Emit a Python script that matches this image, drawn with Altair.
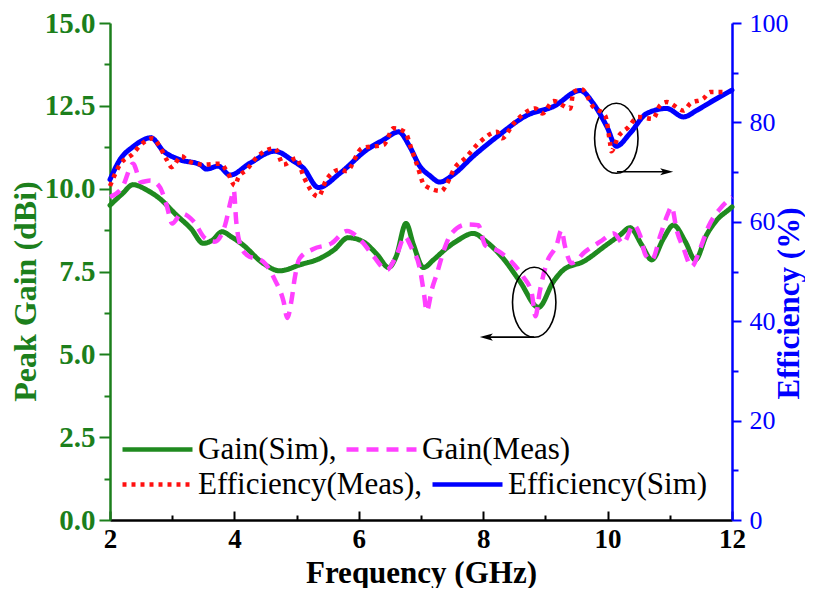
import altair as alt
import pandas as pd

# ---------------- data ----------------
gain_sim_f = [2.0, 2.2, 2.37, 2.6, 2.8, 3.07, 3.3, 3.5, 3.65, 3.8, 3.95, 4.14, 4.46, 4.73,
              5.05, 5.38, 5.6, 5.83, 6.07, 6.3, 6.48, 6.6, 6.76, 6.88, 7.04, 7.2, 7.41,
              7.6, 7.84, 8.05, 8.32, 8.59, 8.89, 9.13, 9.29, 9.61, 9.98, 10.2, 10.36,
              10.55, 10.71, 10.9, 11.06, 11.25, 11.41, 11.59, 11.75, 11.97, 12.0]
gain_sim_v = [9.50, 9.85, 10.12, 9.95, 9.70, 9.20, 8.80, 8.35, 8.45, 8.70, 8.55, 8.30, 7.75, 7.52,
              7.70, 7.90, 8.15, 8.52, 8.40, 8.00, 7.62, 7.95, 8.95, 8.30, 7.62, 7.85, 8.20,
              8.45, 8.65, 8.40, 7.90, 7.20, 6.42, 7.20, 7.55, 7.80, 8.30, 8.60, 8.82,
              8.30, 7.85, 8.50, 8.90, 8.40, 7.85, 8.60, 9.04, 9.40, 9.45]

gain_meas_f = [2.0, 2.2, 2.37, 2.5, 2.65, 2.8, 2.91, 3.0, 3.15, 3.35, 3.53, 3.68, 3.85, 3.95,
               3.99, 4.03, 4.08, 4.2, 4.46, 4.65, 4.79, 4.85, 4.92, 4.97, 5.05, 5.27, 5.56,
               5.81, 6.05, 6.24, 6.45, 6.61, 6.74, 6.85, 6.98, 7.05, 7.09, 7.18, 7.25, 7.36,
               7.49, 7.73, 7.92, 8.03, 8.24, 8.45, 8.64, 8.78, 8.84, 8.91, 9.02, 9.18, 9.26,
               9.31, 9.42, 9.64, 9.88, 10.1, 10.25, 10.42, 10.52, 10.61, 10.71, 10.85, 10.96,
               11.03, 11.11, 11.22, 11.35, 11.49, 11.62, 11.81, 12.0]
gain_meas_v = [9.75, 10.05, 10.75, 10.20, 10.25, 10.05, 9.50, 8.95, 9.25, 9.00, 8.50, 8.40, 8.90, 9.70,
               9.95, 9.00, 8.40, 8.00, 7.80, 7.25, 6.60, 6.10, 6.65, 7.30, 7.90, 8.18, 8.35,
               8.72, 8.40, 7.95, 7.55, 8.00, 8.55, 8.20, 7.60, 6.80, 6.30, 7.00, 7.40, 8.10,
               8.65, 8.92, 8.90, 8.30, 8.12, 7.80, 7.35, 6.85, 6.15, 6.90, 7.75, 8.30, 8.75,
               8.30, 7.75, 8.10, 8.40, 8.65, 8.35, 8.90, 8.60, 8.00, 7.85, 8.60, 9.20,
               9.45, 8.75, 8.20, 7.65, 8.20, 8.85, 9.40, 9.75]

eff_sim_f = [2.0, 2.16, 2.37, 2.66, 2.86, 3.12, 3.45, 3.55, 3.74, 3.93, 4.25, 4.65, 4.95, 5.11,
             5.35, 5.70, 6.13, 6.40, 6.64, 6.82, 6.98, 7.14, 7.30, 7.52, 7.84, 8.22, 8.70,
             9.13, 9.56, 9.77, 9.99, 10.14, 10.36, 10.63, 10.95, 11.22, 11.43, 11.70, 12.0]
eff_sim_v = [68.5, 72.5, 75.1, 76.9, 74.2, 72.5, 71.5, 70.6, 71.2, 69.4, 71.8, 74.2, 72.2, 70.8,
             66.9, 69.8, 74.5, 76.5, 78.1, 75.1, 71.2, 69.3, 68.0, 69.5, 73.2, 77.1, 81.4,
             83.2, 86.4, 83.8, 79.1, 75.2, 77.8, 81.8, 82.8, 81.1, 82.4, 84.4, 86.5]

eff_meas_f = [2.0, 2.16, 2.37, 2.48, 2.69, 2.80, 2.91, 2.99, 3.15, 3.26, 3.50, 3.77, 3.88, 4.01,
              4.06, 4.20, 4.36, 4.65, 4.79, 5.00, 5.11, 5.35, 5.48, 5.70, 5.80, 6.05, 6.40,
              6.56, 6.74, 6.85, 6.93, 7.06, 7.33, 7.41, 7.54, 7.71, 7.95, 8.22, 8.30, 8.49,
              8.84, 8.95, 9.13, 9.40, 9.45, 9.58, 9.77, 9.96, 10.04, 10.06, 10.17, 10.33,
              10.49, 10.73, 10.84, 10.95, 11.22, 11.33, 11.54, 11.65, 11.92]
eff_meas_v = [67.2, 71.5, 73.7, 75.3, 76.8, 75.1, 72.5, 71.0, 73.2, 72.2, 71.5, 71.7, 70.2, 67.3,
              68.8, 70.5, 73.0, 74.8, 71.5, 72.8, 69.2, 65.1, 68.5, 70.5, 70.2, 74.8, 75.5,
              78.8, 78.1, 74.5, 71.7, 67.3, 66.2, 67.5, 70.8, 72.8, 76.1, 78.1, 76.8, 79.8,
              82.8, 81.8, 84.3, 82.8, 86.1, 86.7, 83.1, 81.4, 75.8, 74.2, 77.1, 79.0,
              81.1, 80.7, 83.4, 84.1, 82.4, 83.8, 84.8, 86.1, 86.1]

gain_names = ["Gain(Sim)", "Gain(Meas)"]
gain_colors = ["#1f8a1f", "#ff40ff"]
gain_dashes = [[1, 0], [12, 8]]
eff_names = ["Efficiency(Meas)", "Efficiency(Sim)"]
eff_colors = ["#ff1010", "#0000ff"]
eff_dashes = [[4, 5], [1, 0]]

gain_ticks = [0, 2.5, 5, 7.5, 10, 12.5, 15]
gain_minor = [1.25, 3.75, 6.25, 8.75, 11.25, 13.75]
eff_ticks = [0, 20, 40, 60, 80, 100]
eff_minor = [10, 30, 50, 70, 90]
freq_ticks = [2, 4, 6, 8, 10, 12]
freq_minor = [3, 5, 7, 9, 11]

# annotations in data units (GHz, dBi)
ellipse_f = [10.14, 8.82]
ellipse_v = [11.52, 6.57]
arrow_f = [10.15, 8.82]
arrow_f2 = [10.95, 8.05]
arrow_v = [10.51, 5.52]
arrow_dir = ["right", "left"]

# ---------------- build ----------------
W, H = 622, 497
GREEN = "#1c7f1c"
BLUE = "#0000ff"
FONT = "Liberation Serif"
HEAD_RIGHT = "M1,0L-1,-0.55L-0.55,0L-1,0.55Z"
HEAD_LEFT = "M-1,0L1,-0.55L0.55,0L1,0.55Z"
ELLIPSE = ("M0,-1C0.3424,-1,0.62,-0.5523,0.62,0C0.62,0.5523,0.3424,1,0,1"
           "C-0.3424,1,-0.62,0.5523,-0.62,0C-0.62,-0.5523,-0.3424,-1,0,-1Z")


def frame(fs, vs, name):
    return pd.DataFrame({"f": fs, "v": vs, "series": name})


df_gs = frame(gain_sim_f, gain_sim_v, gain_names[0])
df_gm = frame(gain_meas_f, gain_meas_v, gain_names[1])
df_em = frame(eff_meas_f, eff_meas_v, eff_names[0])
df_es = frame(eff_sim_f, eff_sim_v, eff_names[1])
df_ell = pd.DataFrame({"f": ellipse_f, "v": ellipse_v})
df_arr = pd.DataFrame({"f": arrow_f, "f2": arrow_f2, "v": arrow_v, "dir": arrow_dir})

xs = alt.Scale(domain=[2, 12], nice=False, zero=False)
ys_gain = alt.Scale(domain=[0, 15], nice=False, zero=False)
ys_eff = alt.Scale(domain=[0, 100], nice=False, zero=False)


def make_legend(y):
    return alt.Legend(
        title="", orient="none", legendX=10, legendY=y, direction="horizontal",
        columns=2, symbolType="stroke", symbolSize=4900,
        symbolStrokeWidth=4.5, clipHeight=31, labelFont=FONT, labelFontSize=31,
        labelColor="black", labelLimit=400, labelOffset=3, columnPadding=7,
        padding=0,
        labelExpr="(datum.label == 'Gain(Sim)' || datum.label == 'Efficiency(Meas)') ? datum.label + ',' : datum.label",
    )


gain_legend = make_legend(411)
eff_legend = make_legend(446)

x_bottom = alt.Axis(orient="bottom", values=freq_ticks, format="d", ticks=False, tickSize=0,
                    domainColor="black", domainWidth=2.5, labelColor="black", labelFont=FONT,
                    labelFontSize=27, labelFontWeight="bold", labelPadding=6, labelFlush=False,
                    title="Frequency (GHz)", titleFont=FONT, titleFontSize=31,
                    titleFontWeight="bold", titleColor="black", titleY=62,
                    titleBaseline="alphabetic", grid=False)
x_in_major = alt.Axis(orient="top", offset=-H, values=freq_ticks, labels=False, domain=False,
                      tickSize=9, tickWidth=2, tickColor="black", title="", grid=False)
x_in_minor = alt.Axis(orient="top", offset=-H, values=freq_minor, labels=False, domain=False,
                      tickSize=5, tickWidth=2, tickColor="black", title="", grid=False)

y_left = alt.Axis(orient="left", values=gain_ticks, format=".1f", tickSize=11, tickWidth=2,
                  tickColor=GREEN, domainColor=GREEN, domainWidth=2.5, labelColor=GREEN,
                  labelFont=FONT, labelFontSize=29, labelFontWeight="bold", labelPadding=4,
                  labelFlush=False,
                  title="Peak Gain (dBi)", titleColor=GREEN, titleFont=FONT, titleFontSize=32,
                  titleFontWeight="bold", titleAngle=270, titleX=-85, titleY=268,
                  titleAlign="center", titleBaseline="middle", grid=False)
y_left_minor = alt.Axis(orient="left", values=gain_minor, labels=False, domain=False,
                        tickSize=6, tickWidth=2, tickColor=GREEN, title="", grid=False)

y_right = alt.Axis(orient="right", values=eff_ticks, format="d", tickSize=9, tickWidth=2,
                   tickColor=BLUE, domainColor=BLUE, domainWidth=2.5, labelColor=BLUE,
                   labelFont=FONT, labelFontSize=26, labelPadding=8, labelFlush=False,
                   title="Efficiency (%)", titleColor=BLUE, titleFont=FONT, titleFontSize=31,
                   titleFontWeight="bold", titleAngle=270, titleX=57, titleY=280,
                   titleAlign="center", titleBaseline="middle", grid=False)
y_right_minor = alt.Axis(orient="right", values=eff_minor, labels=False, domain=False,
                         tickSize=6, tickWidth=2, tickColor=BLUE, title="", grid=False)


def series_layer(df, width, cap, xaxis, yaxis, yscale, names, colors, dashes, legend):
    return alt.Chart(df).mark_line(strokeWidth=width, interpolate="monotone", strokeCap=cap).encode(
        x=alt.X("f:Q", scale=xs, axis=xaxis),
        y=alt.Y("v:Q", scale=yscale, axis=yaxis),
        color=alt.Color("series:N", scale=alt.Scale(domain=names, range=colors), legend=legend),
        strokeDash=alt.StrokeDash("series:N", scale=alt.Scale(domain=names, range=dashes), legend=legend),
    )


green = series_layer(df_gs, 5, "round", x_bottom, y_left, ys_gain,
                     gain_names, gain_colors, gain_dashes, gain_legend)
magenta = series_layer(df_gm, 4.5, "butt", x_in_major, y_left_minor, ys_gain,
                       gain_names, gain_colors, gain_dashes, gain_legend)
red = series_layer(df_em, 4.5, "butt", None, y_right_minor, ys_eff,
                   eff_names, eff_colors, eff_dashes, eff_legend)
blue = series_layer(df_es, 5, "round", None, y_right, ys_eff,
                    eff_names, eff_colors, eff_dashes, eff_legend)

ellipses = alt.Chart(df_ell).mark_point(shape=ELLIPSE, size=4900, filled=False, stroke="black",
                                        strokeWidth=1.6, opacity=1).encode(
    x=alt.X("f:Q", scale=xs, axis=x_in_minor),
    y=alt.Y("v:Q", scale=ys_gain, axis=None),
)
arrows = alt.Chart(df_arr).mark_rule(color="black", strokeWidth=1.6).encode(
    x=alt.X("f:Q", scale=xs, axis=None),
    x2="f2:Q",
    y=alt.Y("v:Q", scale=ys_gain, axis=None),
)
heads = alt.Chart(df_arr).mark_point(filled=True, color="black", size=170, opacity=1).encode(
    x=alt.X("f2:Q", scale=xs, axis=None),
    y=alt.Y("v:Q", scale=ys_gain, axis=None),
    shape=alt.Shape("dir:N", scale=alt.Scale(domain=["right", "left"], range=[HEAD_RIGHT, HEAD_LEFT]),
                    legend=None),
)

gain_group = alt.layer(green, magenta, ellipses, arrows, heads).resolve_axis(y="independent", x="independent")
eff_group = alt.layer(blue, red).resolve_axis(y="independent")

chart = alt.layer(gain_group, eff_group).resolve_scale(
    y="independent", color="independent", strokeDash="independent"
).properties(
    width=W, height=H,
    autosize=alt.AutoSizeParams(type="none"),
    padding={"left": 102, "top": 15, "right": 73, "bottom": 68},
).configure_view(stroke="transparent").configure_axis(
    labelFont=FONT, titleFont=FONT
).configure_legend(labelFont=FONT)

chart.save("out.html", embed_options={"renderer": "svg", "actions": False})
